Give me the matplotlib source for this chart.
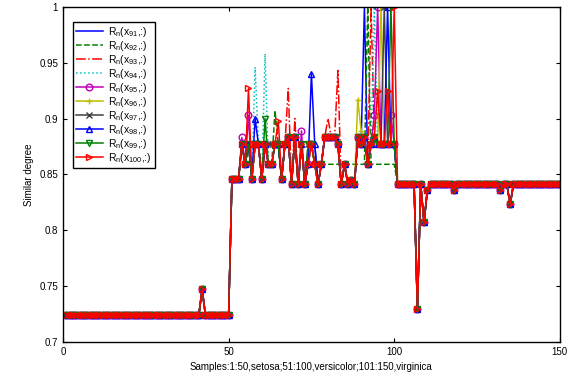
import matplotlib
matplotlib.use("Agg")
import matplotlib.pyplot as plt

plt.rcParams['font.family'] = ['Liberation Sans', 'DejaVu Sans']
plt.rcParams['mathtext.fontset'] = 'custom'
plt.rcParams['mathtext.rm'] = 'Liberation Sans'

#datos: grado de similitud de las muestras 91..100 con las 150 muestras
muestras = list(range(1, 151))

#parte comun a todas las series
setosa = [0.724] * 41 + [0.747] + [0.724] * 8
versicolor = [0.846, 0.846, 0.846, 0.877, 0.859, 0.877, 0.846, 0.877, 0.877, 0.846,
              0.877, 0.859, 0.859, 0.877, 0.877, 0.846, 0.877, 0.883, 0.841, 0.883,
              0.841, 0.877, 0.841, 0.859, 0.877, 0.859, 0.841, 0.859, 0.883, 0.883,
              0.883, 0.883, 0.877, 0.841, 0.859, 0.841, 0.845, 0.841, 0.883, 0.877,
              0.883, 0.859, 0.877, 0.883, 0.877, 0.877, 0.877, 0.877, 0.877, 0.877]
virginica = ([0.841] * 6 + [0.729, 0.841, 0.807, 0.836] + [0.841] * 7 + [0.836]
             + [0.841] * 13 + [0.836, 0.841, 0.841, 0.823] + [0.841] * 15)
base = setosa + versicolor + virginica

#lo que cambia en cada serie (muestra: valor)
cambios_91 = {91: 1.0, 62: 0.877, 63: 0.877, 76: 0.877}
cambios_92 = {64: 0.907, 77: 0.859, 78: 0.859, 79: 0.859, 80: 0.859, 81: 0.859,
              82: 0.859, 83: 0.859, 84: 0.859, 85: 0.859, 86: 0.859, 87: 0.859,
              88: 0.859, 89: 0.859, 90: 0.859, 91: 0.859, 92: 1.0, 93: 0.859,
              94: 0.859, 95: 0.859, 96: 0.859, 97: 0.859, 98: 0.859, 99: 0.859,
              100: 0.859}
cambios_93 = {93: 1.0, 68: 0.927, 70: 0.9, 80: 0.9, 83: 0.943}
cambios_94 = {94: 1.0, 58: 0.946, 61: 0.958}
cambios_95 = {95: 1.0, 54: 0.883, 56: 0.903, 72: 0.889, 94: 0.903, 99: 0.903}
cambios_96 = {96: 1.0, 89: 0.917, 90: 0.889}
cambios_97 = {97: 1.0, 62: 0.877, 63: 0.877, 74: 0.877}
cambios_98 = {98: 1.0, 58: 0.9, 75: 0.94, 76: 0.877}
cambios_99 = {99: 1.0, 61: 0.9, 74: 0.877}
cambios_100 = {100: 1.0, 56: 0.927, 65: 0.898, 95: 0.925, 98: 0.925}

etiquetas = [r'R$_{\mathrm{n}}$(x$_{\mathrm{%d}}$,:)' % i for i in range(91, 101)]
todos_cambios = [cambios_91, cambios_92, cambios_93, cambios_94, cambios_95,
                 cambios_96, cambios_97, cambios_98, cambios_99, cambios_100]

#estilos tipo matlab
estilos = [
    dict(color='#0000ff', linestyle='-'),
    dict(color='#008000', linestyle='--'),
    dict(color='#ff0000', linestyle='-.'),
    dict(color='#00bfbf', linestyle=':'),
    dict(color='#bf00bf', linestyle='-', marker='o'),
    dict(color='#bfbf00', linestyle='-', marker='+'),
    dict(color='#404040', linestyle='-', marker='x'),
    dict(color='#0000ff', linestyle='-', marker='^'),
    dict(color='#008000', linestyle='-', marker='v'),
    dict(color='#ff0000', linestyle='-', marker='>'),
]

fig = plt.figure(figsize=(5.73, 3.79), dpi=100)
ax = fig.add_axes([0.110, 0.098, 0.867, 0.884])

for etiqueta, cambios, estilo in zip(etiquetas, todos_cambios, estilos):
    valores = list(base)
    for muestra, valor in cambios.items():
        valores[muestra - 1] = valor
    ax.plot(muestras, valores, label=etiqueta, linewidth=1.1,
            markersize=4.8, markerfacecolor='none', markeredgewidth=1.0, **estilo)

ax.set_xlim(0, 150)
ax.set_ylim(0.7, 1)
ax.set_xticks([0, 50, 100, 150])
ax.set_yticks([0.7, 0.75, 0.8, 0.85, 0.9, 0.95, 1])
ax.set_yticklabels(['0.7', '0.75', '0.8', '0.85', '0.9', '0.95', '1'])
ax.tick_params(direction='in', top=True, right=True, labelsize=7, length=3, width=0.8)
for lado in ax.spines.values():
    lado.set_linewidth(1.0)

ax.set_xlabel('Samples:1:50,setosa;51:100,versicolor;101:150,virginica', fontsize=7)
ax.set_ylabel('Similar degree', fontsize=7)

leyenda = ax.legend(loc='upper left', bbox_to_anchor=(0.0195, 0.955), borderaxespad=0,
                    fontsize=7.5, fancybox=False, framealpha=1, edgecolor='black',
                    handlelength=2.6, handletextpad=0.5, labelspacing=0.0,
                    borderpad=0.3)
leyenda.get_frame().set_linewidth(1.0)

plt.savefig('out.png', dpi=100)
